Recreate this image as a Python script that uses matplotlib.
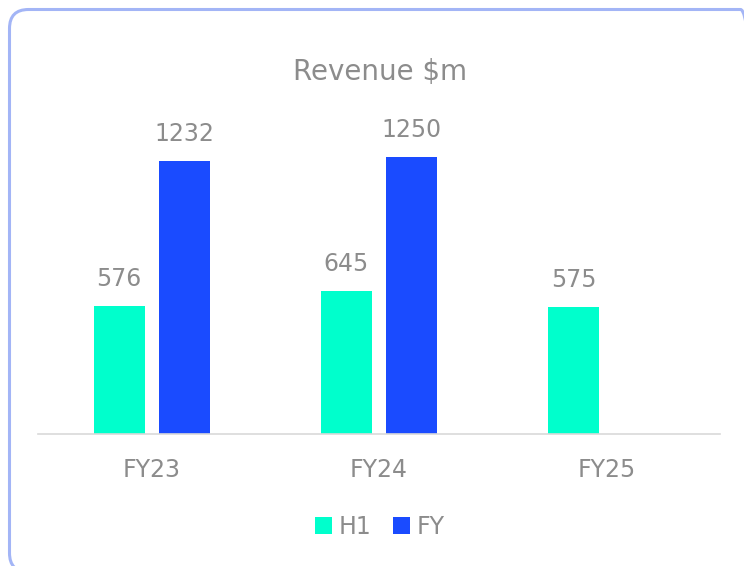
import numpy as np
import matplotlib
matplotlib.use("Agg")
import matplotlib.pyplot as plt
from matplotlib.patches import FancyBboxPatch

categories = ["FY23", "FY24", "FY25"]
h1_values = [576, 645, 575]
fy_values = [1232, 1250, None]
series_names = ["H1", "FY"]

H1_COLOR = "#00FFCC"
FY_COLOR = "#1A4BFF"
TEXT_COLOR = "#8C8C8C"

plt.rcParams["font.family"] = ["DejaVu Sans"]

fig = plt.figure(figsize=(7.44, 5.66), dpi=100)

# rounded card border (in inches, runs off the right and bottom edges)
border = FancyBboxPatch((0.095, -0.06), 7.5, 5.66 - 0.095 + 0.06,
                        boxstyle="round,pad=0,rounding_size=0.19",
                        transform=fig.dpi_scale_trans, facecolor="none",
                        edgecolor="#A3B5F6", linewidth=2.2, zorder=-1)
fig.patches.append(border)

ax = fig.add_axes([38 / 744, 132 / 566, 682 / 744, 310.2 / 566])
ax.set_facecolor("none")

x = np.arange(len(categories))
width = 0.224
offset = 0.143

b1 = ax.bar(x - offset, h1_values, width, color=H1_COLOR, label=series_names[0])
fy_x = [xi + offset for xi, v in zip(x, fy_values) if v is not None]
fy_v = [v for v in fy_values if v is not None]
b2 = ax.bar(fy_x, fy_v, width, color=FY_COLOR, label=series_names[1])

for bars in (b1, b2):
    for r in bars:
        ax.text(r.get_x() + r.get_width() / 2, r.get_height() + 90,
                str(int(r.get_height())), ha="center", va="baseline",
                fontsize=17, color=TEXT_COLOR)

ax.set_xlim(-0.5, 2.5)
ax.set_ylim(0, 1400)
ax.set_xticks(x)
ax.set_xticklabels(categories, fontsize=17, color=TEXT_COLOR)
ax.tick_params(axis="x", length=0, pad=17)
ax.set_yticks([])
for s in ["top", "right", "left"]:
    ax.spines[s].set_visible(False)
ax.spines["bottom"].set_color("#D9D9D9")
ax.spines["bottom"].set_linewidth(1.2)

fig.text(380 / 744, 1 - 72 / 566, "Revenue \\$m", ha="center", va="center",
         fontsize=20, color=TEXT_COLOR)

leg = fig.legend(handles=[b1, b2], labels=series_names, loc="center",
                 bbox_to_anchor=(380 / 744, 1 - 527 / 566), ncol=2,
                 frameon=False, fontsize=17, handlelength=0.7,
                 handleheight=0.7, handletextpad=0.3, columnspacing=0.9)
for t in leg.get_texts():
    t.set_color(TEXT_COLOR)

fig.savefig("out.png", dpi=100)
